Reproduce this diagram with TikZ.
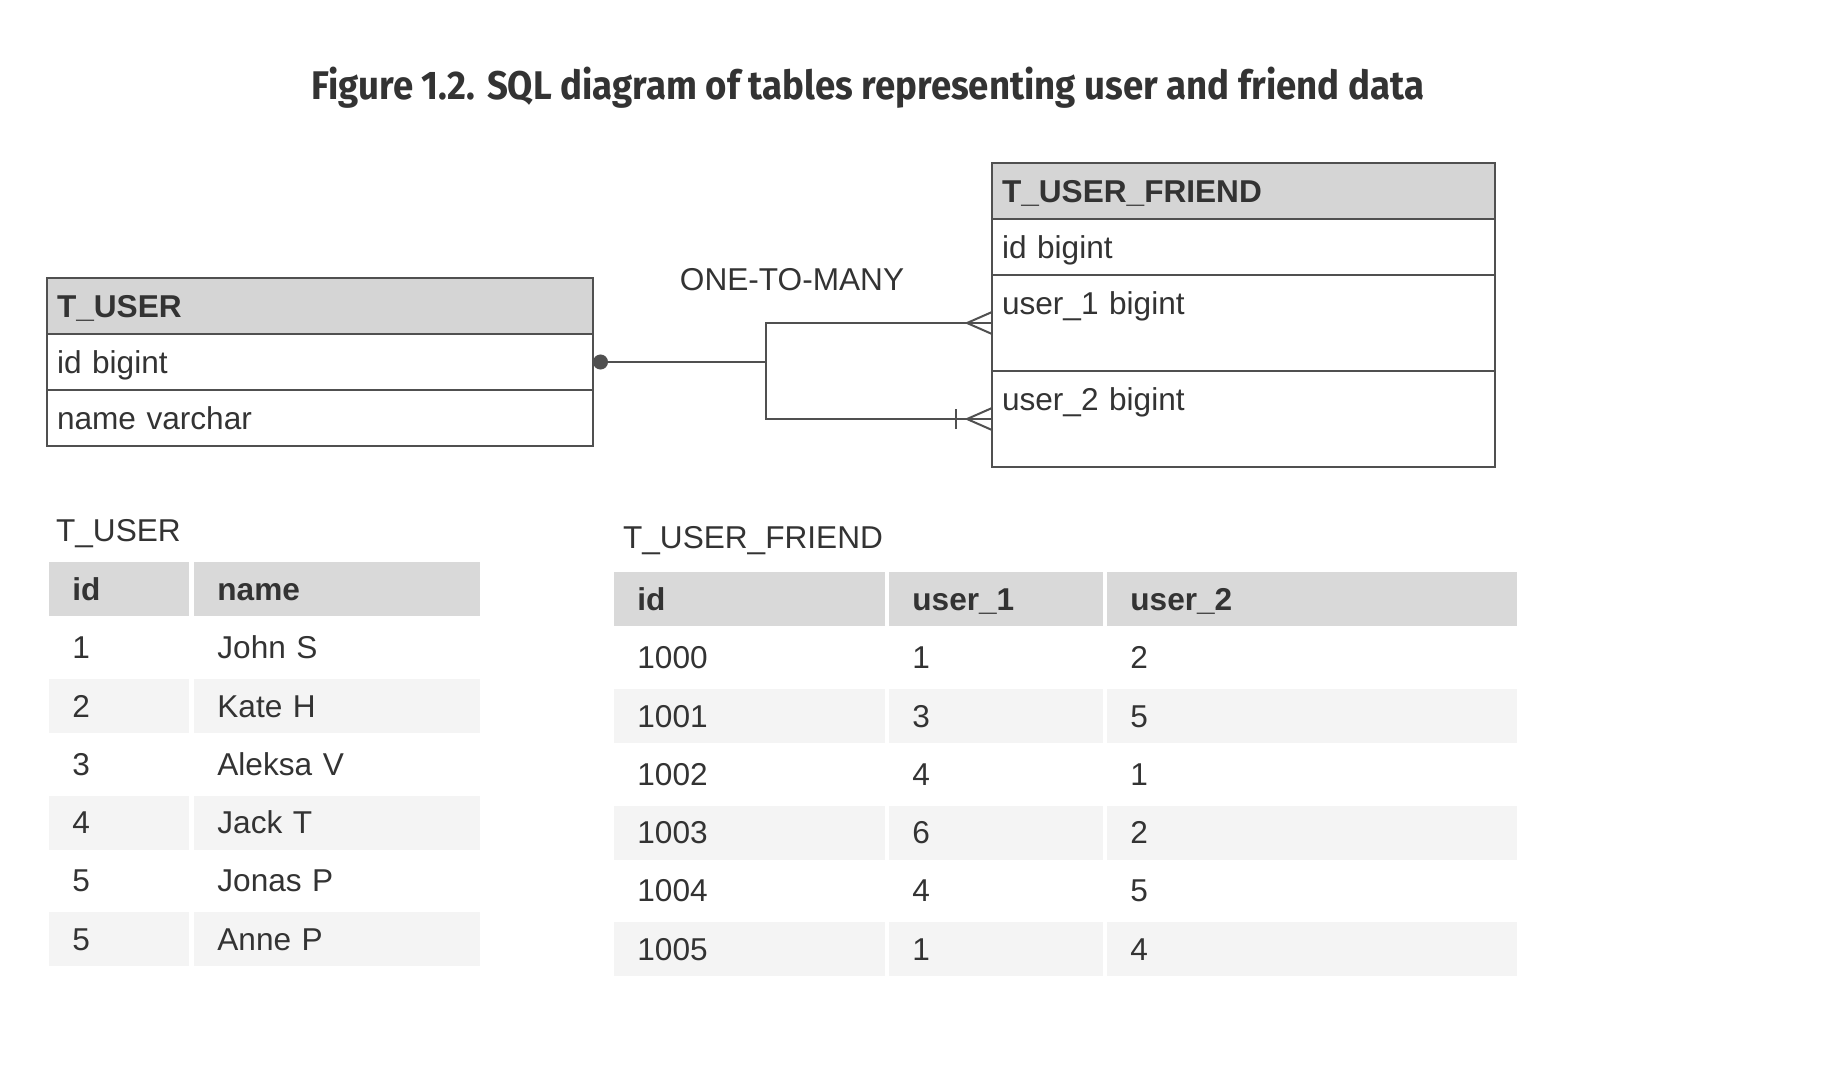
\documentclass[tikz,border=0pt]{standalone}
\usepackage{fontspec}
\setmainfont{Liberation Sans}
\newfontfamily\titlefont[FakeStretch=0.915]{Fira Sans}
\usetikzlibrary{positioning, arrows.meta, matrix, decorations.markings}

\definecolor{linegrey}{HTML}{505050}
\definecolor{headgrey}{HTML}{D5D5D5}
\definecolor{cellgrey}{HTML}{D9D9D9}
\definecolor{stripegrey}{HTML}{F4F4F4}
\definecolor{textgrey}{HTML}{333333}

\begin{document}
\begin{tikzpicture}[x=0.5pt, y=-0.5pt, font=\fontsize{15.8}{19}\selectfont, text=textgrey]
        \tikzstyle{field} = [rectangle, draw=linegrey, line width=1pt, outer sep=0pt, inner xsep=5pt, inner ysep=0pt, align=left, text height=19.5pt, text depth=8.5pt]
        \tikzstyle{fieldhead} = [field, fill=headgrey, font=\fontsize{15.8}{19}\selectfont\bfseries]
        \tikzstyle{tallfield} = [field, text depth=28.5pt]
        \tikzstyle{userwidth} = [text width=263pt]
        \tikzstyle{friendwidth} = [text width=241.5pt]
        \tikzstyle{cell} = [rectangle, inner xsep=11.5pt, inner ysep=0pt, align=left, text height=19pt, text depth=8pt]
        \tikzstyle{cellhead} = [fill=cellgrey, font=\fontsize{15.8}{19}\selectfont\bfseries]
        \tikzstyle{link} = [draw=linegrey, line width=1pt]
        \tikzstyle{crowfoot} = [postaction={decorate, decoration={markings, mark=at position 1 with {\draw[linegrey, line width=1pt] (-12.5pt,0pt) -- (0pt,5.5pt) (-12.5pt,0pt) -- (0pt,-5.5pt);}}}]
        \tikzstyle{onebar} = [postaction={decorate, decoration={markings, mark=at position 1 with {\draw[linegrey, line width=1pt] (-18pt,-5pt) -- (-18pt,5pt);}}}]

        \useasboundingbox (0,0) rectangle (1834,1078);

        \node (title) at (868,88) {\titlefont\bfseries\fontsize{20}{24}\selectfont Figure 1.2. SQL diagram of tables representing user and friend data};

        % schema boxes
        \node (uhead) [fieldhead, userwidth, anchor=north west] at (47,278) {T\_USER};
        \node (uid) [field, userwidth, below=0pt of uhead] {id bigint};
        \node (uname) [field, userwidth, below=0pt of uid] {name varchar};

        \node (fhead) [fieldhead, friendwidth, anchor=north west] at (992,163) {T\_USER\_FRIEND};
        \node (fid) [field, friendwidth, below=0pt of fhead] {id bigint};
        \node (fu1) [tallfield, friendwidth, below=0pt of fid] {user\_1 bigint};
        \node (fu2) [tallfield, friendwidth, below=0pt of fu1] {user\_2 bigint};

        \node (relation) at (792,280) {ONE-TO-MANY};

        \coordinate (joint) at ([xshift=86.5pt]uid.east);
        \draw [link, {Circle[length=7.5pt]}-] (uid.east) -- (joint);
        \draw [link, crowfoot] (joint) |- (fu1.west);
        \draw [link, crowfoot, onebar] (joint) |- (fu2.west);

        % data tables
        \node (userlabel) [anchor=west] at (49,534) {T\_USER};
        \matrix (users) [matrix of nodes, anchor=north west, inner sep=0pt, column sep=2.5pt, row sep=2.15pt,
            nodes={cell},
            column 1/.style={nodes={text width=47pt}},
            column 2/.style={nodes={text width=120pt}},
            row 1/.style={nodes={cellhead}},
            row 3/.style={nodes={fill=stripegrey}},
            row 5/.style={nodes={fill=stripegrey}},
            row 7/.style={nodes={fill=stripegrey}}] at (49,562) {
            id & name \\
            1 & John S \\
            2 & Kate H \\
            3 & Aleksa V \\
            4 & Jack T \\
            5 & Jonas P \\
            5 & Anne P \\
        };

        \node (friendlabel) [anchor=west] at (616,541) {T\_USER\_FRIEND};
        \matrix (friends) [matrix of nodes, anchor=north west, inner sep=0pt, column sep=2pt, row sep=2.15pt,
            nodes={cell},
            column 1/.style={nodes={text width=112.5pt}},
            column 2/.style={nodes={text width=84pt}},
            column 3/.style={nodes={text width=182pt}},
            row 1/.style={nodes={cellhead}},
            row 3/.style={nodes={fill=stripegrey}},
            row 5/.style={nodes={fill=stripegrey}},
            row 7/.style={nodes={fill=stripegrey}}] at (614,572) {
            id & user\_1 & user\_2 \\
            1000 & 1 & 2 \\
            1001 & 3 & 5 \\
            1002 & 4 & 1 \\
            1003 & 6 & 2 \\
            1004 & 4 & 5 \\
            1005 & 1 & 4 \\
        };
\end{tikzpicture}
\end{document}
